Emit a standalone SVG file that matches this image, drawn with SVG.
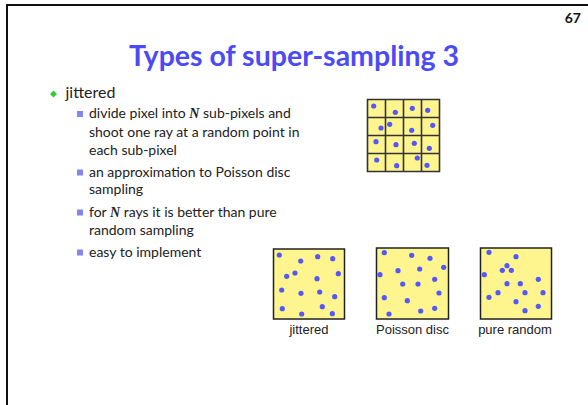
<svg xmlns="http://www.w3.org/2000/svg" width="588" height="405" viewBox="0 0 588 405">
<style>
.frame{stroke:#111;stroke-width:2;fill:none}
.title{font-family:Lato,"Open Sans",sans-serif;font-weight:bold;font-size:28.5px;fill:#4B4BF5}
.num{font-family:Lato,sans-serif;font-weight:bold;font-size:14px;fill:#111}
.body{font-family:Lato,"Open Sans",sans-serif;font-size:14px;fill:#222}
.big{font-size:16px}
.n{font-family:"Liberation Serif",serif;font-style:italic;font-weight:bold}
.sq{fill:#8585F2}
.box{fill:#FFF58F;stroke:#222;stroke-width:1.5}
.gl{stroke:#333;stroke-width:1.6;fill:none}
.dot{fill:#5558F8}
.lab{font-family:"Liberation Sans",Arial,sans-serif;font-size:13px;fill:#222;text-anchor:middle}
</style>
<defs>
<circle id="d" r="2.6" class="dot"/>
</defs>
<line class="frame" x1="6" y1="5" x2="588" y2="5"/>
<line class="frame" x1="7" y1="4" x2="7" y2="405"/>
<text class="num" x="581" y="23" text-anchor="end">67</text>
<text class="title" x="294" y="66" text-anchor="middle">Types of super-sampling 3</text>

<g id="bullets">
<path d="M53.5,90.5 L57,94 L53.5,97.5 L50,94 Z" fill="#33CC33"/>
<text class="body big" x="65.5" y="98">jittered</text>
<rect class="sq" x="77" y="111" width="6" height="6"/>
<text class="body" x="89" y="118">divide pixel into <tspan class="n">N</tspan> sub-pixels and</text>
<text class="body" x="89" y="136.5">shoot one ray at a random point in</text>
<text class="body" x="89" y="155">each sub-pixel</text>
<rect class="sq" x="77" y="169.5" width="6" height="6"/>
<text class="body" x="89" y="176.5">an approximation to Poisson disc</text>
<text class="body" x="89" y="194">sampling</text>
<rect class="sq" x="77" y="209.5" width="6" height="6"/>
<text class="body" x="89" y="216.5">for <tspan class="n">N</tspan> rays it is better than pure</text>
<text class="body" x="89" y="235">random sampling</text>
<rect class="sq" x="77" y="249.5" width="6" height="6"/>
<text class="body" x="89" y="256.5">easy to implement</text>
</g>

<g id="grid">
<rect x="367.5" y="99.5" width="72" height="72" fill="#FFF58F"/>
<path class="gl" d="M367.5,99.5h72v72h-72z M385.5,99.5v72 M403.5,99.5v72 M421.5,99.5v72 M367.5,117.5h72 M367.5,135.5h72 M367.5,153.5h72"/>
<use href="#d" x="373.7" y="106"/><use href="#d" x="395.3" y="112.3"/><use href="#d" x="412.3" y="108.3"/><use href="#d" x="427.7" y="110.3"/>
<use href="#d" x="381" y="128"/><use href="#d" x="389.7" y="124.3"/><use href="#d" x="411.7" y="130.3"/><use href="#d" x="432.7" y="125.3"/>
<use href="#d" x="376" y="141.7"/><use href="#d" x="396" y="144.7"/><use href="#d" x="414.3" y="143.3"/><use href="#d" x="429.3" y="148.3"/>
<use href="#d" x="376.7" y="160"/><use href="#d" x="396.7" y="165.7"/><use href="#d" x="417.3" y="158"/><use href="#d" x="427" y="165.3"/>
</g>

<g id="jittered">
<rect class="box" x="273.5" y="249" width="71" height="70"/>
<use href="#d" x="279.3" y="255"/><use href="#d" x="300.7" y="261"/><use href="#d" x="317.7" y="256.7"/><use href="#d" x="332.7" y="258.7"/>
<use href="#d" x="286.7" y="276.3"/><use href="#d" x="295" y="273"/><use href="#d" x="317" y="278.7"/><use href="#d" x="338.3" y="273.7"/>
<use href="#d" x="281.7" y="290"/><use href="#d" x="301" y="293.3"/><use href="#d" x="319.7" y="292"/><use href="#d" x="334.7" y="296.7"/>
<use href="#d" x="282.3" y="308.7"/><use href="#d" x="301.7" y="314"/><use href="#d" x="322.3" y="306.7"/><use href="#d" x="332.3" y="313.7"/>
<text class="lab" x="309" y="334">jittered</text>
</g>

<g id="poisson">
<rect class="box" x="376.5" y="248" width="72" height="71"/>
<use href="#d" x="384.3" y="252.7"/><use href="#d" x="411.7" y="255.3"/><use href="#d" x="430" y="258.3"/>
<use href="#d" x="380" y="274.7"/><use href="#d" x="398" y="270.7"/><use href="#d" x="419.7" y="269"/><use href="#d" x="443.7" y="267.3"/>
<use href="#d" x="402.7" y="284"/><use href="#d" x="418" y="284"/><use href="#d" x="434.7" y="279.3"/>
<use href="#d" x="384.3" y="297.7"/><use href="#d" x="407.3" y="300.7"/><use href="#d" x="439" y="293"/>
<use href="#d" x="389" y="314"/><use href="#d" x="420.7" y="311"/><use href="#d" x="434.7" y="308.3"/>
<text class="lab" x="412.5" y="334">Poisson disc</text>
</g>

<g id="random">
<rect class="box" x="480.5" y="248" width="71" height="71"/>
<use href="#d" x="489" y="252.3"/><use href="#d" x="516" y="256.7"/>
<use href="#d" x="507" y="265.7"/><use href="#d" x="502.3" y="270.3"/><use href="#d" x="511.3" y="270.3"/>
<use href="#d" x="484.3" y="274.7"/><use href="#d" x="538.3" y="279.3"/>
<use href="#d" x="507" y="283.7"/><use href="#d" x="520.3" y="283.7"/>
<use href="#d" x="498" y="292.7"/><use href="#d" x="525" y="292.7"/><use href="#d" x="543" y="292.7"/>
<use href="#d" x="489" y="297.3"/><use href="#d" x="516" y="301.7"/><use href="#d" x="538.3" y="306.3"/><use href="#d" x="525" y="310.7"/>
<text class="lab" x="515" y="334">pure random</text>
</g>
</svg>
